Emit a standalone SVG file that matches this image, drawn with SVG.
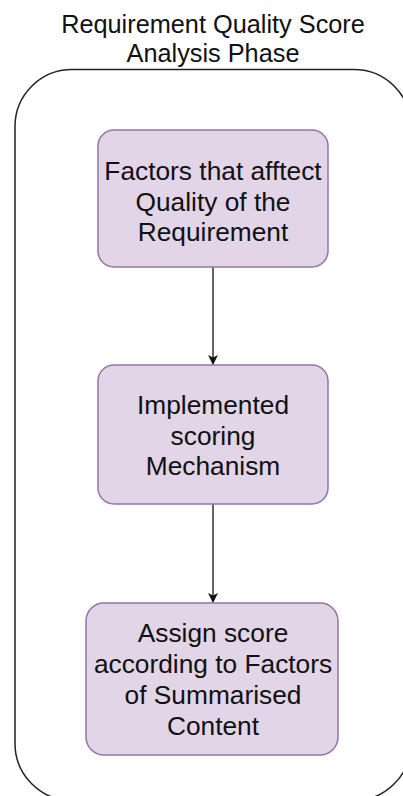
<svg xmlns="http://www.w3.org/2000/svg" width="403" height="796" viewBox="0 0 403 796">
<defs>
<style>
text{font-family:"Liberation Sans",Arial,Helvetica,sans-serif;font-size:26.3px;fill:#111;text-anchor:middle}
text.t{font-size:25.3px}
.box{fill:#e1d5e7;stroke:#9673a6;stroke-width:1.5}
.edge{stroke:#333;stroke-width:1.5;fill:none}
</style>
<marker id="ah" markerWidth="10" markerHeight="10" refX="9" refY="5" orient="auto" markerUnits="userSpaceOnUse">
<path d="M0,0 L10,5 L0,10 L2.5,5 Z" fill="#111"/>
</marker>
</defs>
<g id="title">
<text class="t" x="213" y="33">Requirement Quality Score</text>
<text class="t" x="213" y="62">Analysis Phase</text>
</g>
<g id="container">
<rect x="15" y="69.5" width="396" height="731" rx="57" ry="57" fill="none" stroke="#222" stroke-width="1.5"/>
</g>
<g id="connectors">
<line class="edge" x1="213" y1="267" x2="213" y2="364" marker-end="url(#ah)"/>
<line class="edge" x1="213" y1="504" x2="213" y2="602" marker-end="url(#ah)"/>
</g>
<g id="node1">
<rect class="box" x="98" y="130" width="230" height="137" rx="16"/>
<text x="213" y="180">Factors that afftect</text>
<text x="213" y="210.5">Quality of the</text>
<text x="213" y="241">Requirement</text>
</g>
<g id="node2">
<rect class="box" x="98" y="365" width="230" height="139" rx="16"/>
<text x="213" y="414">Implemented</text>
<text x="213" y="444.5">scoring</text>
<text x="213" y="475">Mechanism</text>
</g>
<g id="node3">
<rect class="box" x="86" y="603" width="252" height="152" rx="18"/>
<text x="213" y="642">Assign score</text>
<text x="213" y="673">according to Factors</text>
<text x="213" y="704">of Summarised</text>
<text x="213" y="735">Content</text>
</g>
</svg>
